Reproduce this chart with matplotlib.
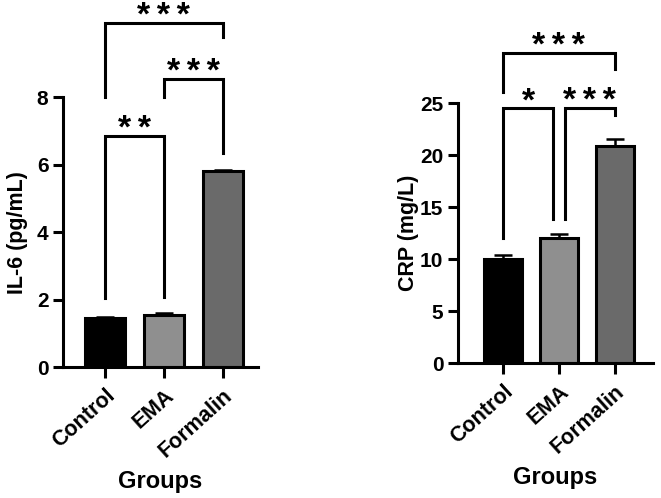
import numpy as np
import matplotlib.pyplot as plt

plt.rcParams['font.family'] = ['Liberation Sans', 'DejaVu Sans']
plt.rcParams['font.weight'] = 'bold'

# ----------------------------
# DATA
# ----------------------------
groups = ["Control", "EMA", "Formalin"]
bar_colors = ["#000000", "#8f8f8f", "#6a6a6a"]

il6_mean = [1.45, 1.55, 5.8]
il6_err = [0.03, 0.04, 0.05]

crp_mean = [10.0, 12.0, 20.9]
crp_err = [0.4, 0.4, 0.65]

# brackets: (x_left, x_right, top, left_leg_end, right_leg_end, label)
il6_brackets = [
    (0, 1, 6.84, 2.04, 2.07, "**"),
    (1, 2, 8.53, 8.0, 6.33, "***"),
    (0, 2, 10.2, 8.0, 9.78, "***"),
]
crp_brackets = [
    (0, 0.9, 24.5, 12.0, 13.9, "*"),
    (1.1, 2, 24.5, 13.9, 23.9, "***"),
    (0, 2, 29.8, 26.1, 28.3, "***"),
]

fig = plt.figure(figsize=(6.61, 4.98), dpi=100)

ax1 = fig.add_axes([0.0953, 0.263, 0.2947, 0.542])
ax2 = fig.add_axes([0.693, 0.271, 0.295, 0.522])


def draw_panel(ax, means, errs, brackets, ylim, yticks, ylabel, xlim, ypad):
    x = np.arange(len(groups))
    ax.bar(x, means, width=0.68, color=bar_colors, edgecolor="black",
           linewidth=2.2, zorder=2)
    ax.errorbar(x, means, yerr=[[0] * len(errs), errs], fmt="none",
                ecolor="black", elinewidth=1.8, capsize=6.5, capthick=1.8,
                zorder=3)
    # significance brackets
    for xl, xr, top, l_end, r_end, lab in brackets:
        ax.plot([xl, xl, xr, xr], [l_end, top, top, r_end], color="black",
                lw=2.2, clip_on=False, solid_joinstyle="miter")
        ax.annotate("\u2009".join(lab), xy=((xl + xr) / 2, top),
                    xytext=(0, -1.5), textcoords="offset points",
                    ha="center", va="baseline", fontsize=24.5,
                    fontweight="bold", annotation_clip=False)
    ax.set_xlim(*xlim)
    ax.set_ylim(*ylim)
    ax.set_yticks(yticks)
    ax.set_xticks(x)
    ax.set_xticklabels(groups, rotation=42, ha="right", rotation_mode="anchor",
                       fontsize=15.5, fontweight="bold")
    ax.tick_params(axis="y", labelsize=15, width=2.2, length=7, direction="out")
    ax.tick_params(axis="x", width=2.2, length=8, direction="out", pad=5)
    for lab in ax.get_yticklabels():
        lab.set_fontweight("bold")
    ax.spines["top"].set_visible(False)
    ax.spines["right"].set_visible(False)
    ax.spines["left"].set_linewidth(2.2)
    ax.spines["bottom"].set_linewidth(2.2)
    ax.set_ylabel(ylabel, fontsize=15.5, fontweight="bold", labelpad=ypad)
    ax.set_xlabel("Groups", fontsize=17, fontweight="bold", labelpad=6)


draw_panel(ax1, il6_mean, il6_err, il6_brackets, (0, 8), [0, 2, 4, 6, 8],
           "IL-6 (pg/mL)", (-0.71, 2.59), 6)
draw_panel(ax2, crp_mean, crp_err, crp_brackets, (0, 25), [0, 5, 10, 15, 20, 25],
           "CRP (mg/L)", (-0.80, 2.68), 1)

plt.savefig("out.png", dpi=100)
